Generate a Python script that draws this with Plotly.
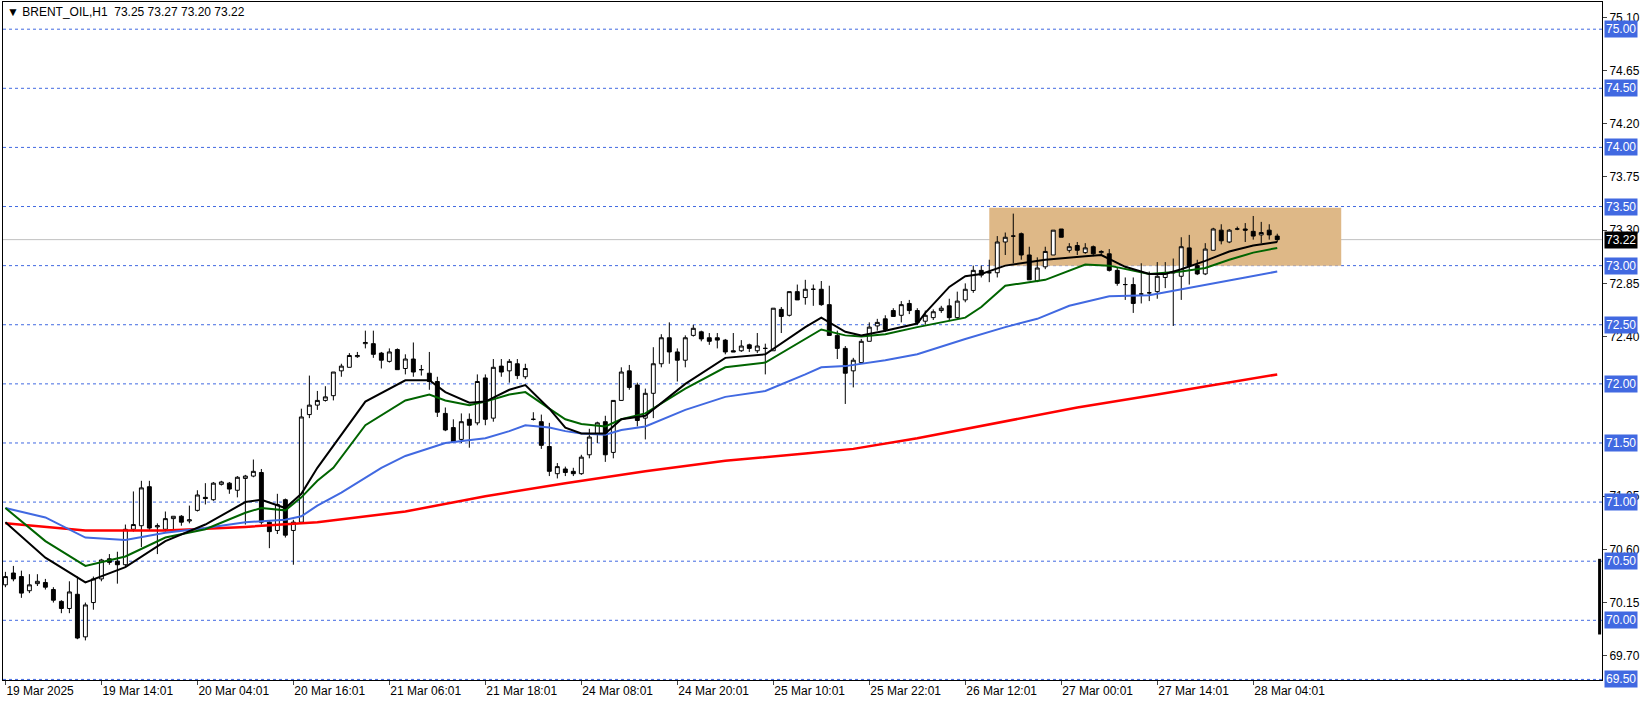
import plotly.graph_objects as go

# hourly candles, bar index 0..159
opens = [70.30,70.40,70.37,70.25,70.31,70.32,70.26,70.16,70.10,70.22,69.86,70.15,70.35,70.52,70.50,70.47,70.77,70.80,71.13,70.79,
         70.77,70.86,70.88,70.84,70.93,71.04,71.02,71.15,71.16,71.10,71.20,71.22,71.25,70.83,70.76,71.02,70.76,70.83,71.74,71.82,
         71.86,71.90,72.11,72.14,72.23,72.34,72.34,72.26,72.19,72.29,72.13,72.21,72.12,72.09,72.02,71.75,71.63,71.53,71.70,71.67,
         72.05,71.71,72.15,72.11,72.17,72.06,71.70,71.68,71.47,71.24,71.28,71.26,71.24,71.40,71.58,71.68,71.42,71.86,72.11,71.99,
         71.71,71.92,72.17,72.39,72.27,72.20,72.41,72.44,72.39,72.39,72.37,72.28,72.28,72.33,72.28,72.30,72.28,72.63,72.58,72.78,
         72.73,72.80,72.80,72.67,72.41,72.30,72.11,72.18,72.36,72.49,72.55,72.62,72.58,72.68,72.62,72.53,72.56,72.62,72.66,72.56,
         72.71,72.79,72.96,72.94,72.94,73.20,73.25,73.27,73.09,72.87,72.99,73.09,73.31,73.13,73.17,73.11,73.16,73.11,73.10,72.96,
         72.84,72.84,72.76,72.77,72.78,72.90,72.94,72.91,73.15,73.00,72.93,73.13,73.30,73.20,73.31,73.31,73.29,73.26,73.30,73.25]
highs = [70.41,70.46,70.42,70.39,70.39,70.35,70.28,70.17,70.33,70.37,70.15,70.37,70.52,70.56,70.58,70.81,71.09,71.18,71.18,70.82,
         70.92,70.88,70.89,70.97,71.10,71.16,71.17,71.18,71.17,71.22,71.23,71.36,71.28,70.84,71.07,71.03,70.85,71.79,72.07,71.94,
         71.98,72.10,72.17,72.26,72.27,72.45,72.45,72.27,72.30,72.30,72.25,72.35,72.16,72.27,72.06,71.80,71.70,71.75,71.75,72.08,
         72.08,72.21,72.21,72.21,72.21,72.17,71.76,71.74,71.67,71.33,71.30,71.29,71.40,71.62,71.68,71.73,71.86,72.14,72.16,72.01,
         71.96,72.31,72.42,72.52,72.30,72.41,72.50,72.45,72.43,72.43,72.38,72.43,72.37,72.34,72.43,72.34,72.64,72.65,72.78,72.84,
         72.88,72.84,72.87,72.83,72.45,72.32,72.22,72.38,72.52,72.55,72.58,72.64,72.70,72.71,72.64,72.62,72.63,72.66,72.72,72.78,
         72.85,73.00,73.00,73.05,73.25,73.28,73.44,73.28,73.16,73.07,73.16,73.30,73.31,73.19,73.20,73.19,73.17,73.13,73.14,72.98,
         72.90,72.90,73.02,72.95,73.03,73.03,73.06,73.24,73.26,73.05,73.19,73.32,73.35,73.31,73.33,73.36,73.42,73.37,73.35,73.27]
lows = [70.28,70.33,70.19,70.23,70.29,70.26,70.15,70.06,70.06,69.84,69.83,70.09,70.33,70.47,70.31,70.45,70.75,70.62,70.76,70.56,
        70.75,70.77,70.80,70.82,70.92,70.98,71.01,71.14,71.07,71.04,70.81,71.21,70.81,70.61,70.73,70.70,70.47,70.82,71.71,71.78,
        71.85,71.86,72.06,72.14,72.22,72.30,72.22,72.13,72.18,72.12,72.08,72.06,72.07,71.95,71.72,71.60,71.51,71.50,71.46,71.65,
        71.65,71.68,72.06,72.01,72.04,72.04,71.69,71.45,71.22,71.20,71.22,71.22,71.23,71.37,71.50,71.34,71.37,71.86,71.95,71.64,
        71.53,71.71,72.14,72.17,72.02,72.14,72.40,72.36,72.33,72.30,72.25,72.27,72.27,72.27,72.26,72.08,72.28,72.43,72.57,72.71,
        72.67,72.66,72.66,72.41,72.21,71.83,71.97,72.17,72.36,72.45,72.44,72.57,72.52,72.59,72.50,72.50,72.54,72.60,72.53,72.54,
        72.69,72.77,72.90,72.86,72.90,73.09,73.02,73.05,72.88,72.86,72.97,73.09,73.24,73.11,73.09,73.10,73.08,73.09,72.95,72.83,
        72.71,72.60,72.68,72.70,72.72,72.81,72.49,72.71,72.84,72.92,72.92,73.13,73.18,73.19,73.30,73.20,73.22,73.19,73.22,73.20]
closes = [70.37,70.35,70.23,70.30,70.33,70.28,70.17,70.10,70.24,69.85,70.13,70.35,70.51,70.49,70.47,70.77,70.81,71.12,70.78,70.80,
          70.86,70.88,70.83,70.85,71.06,71.03,71.16,71.17,71.11,71.21,71.22,71.26,70.83,70.75,70.98,70.72,70.83,71.72,71.82,71.86,
          71.89,72.10,72.15,72.24,72.24,72.35,72.25,72.20,72.27,72.12,72.21,72.10,72.12,72.02,71.76,71.61,71.51,71.68,71.65,72.02,
          71.70,72.14,72.10,72.19,72.07,72.13,71.70,71.48,71.26,71.30,71.25,71.24,71.38,71.55,71.67,71.40,71.86,72.10,71.97,71.69,
          71.92,72.17,72.39,72.27,72.20,72.39,72.47,72.38,72.36,72.37,72.27,72.27,72.32,72.30,72.32,72.30,72.64,72.57,72.78,72.71,
          72.80,72.80,72.67,72.41,72.30,72.09,72.20,72.36,72.48,72.52,72.46,72.57,72.67,72.62,72.52,72.58,72.61,72.64,72.56,72.70,
          72.80,72.96,72.92,72.94,73.20,73.24,73.25,73.09,72.88,72.98,73.12,73.30,73.24,73.16,73.13,73.15,73.10,73.12,72.96,72.85,
          72.84,72.68,72.76,72.77,72.91,72.94,72.94,73.16,73.00,72.93,73.14,73.31,73.21,73.30,73.31,73.30,73.25,73.28,73.26,73.22]

# moving average vertices (bar index, price)
ma_black_x = [0,5,10,15,20,25,30,32,35,37,39,42,45,50,53,55,58,60,63,65,68,70,72,75,77,80,85,90,95,100,102,105,107,110,114,115,118,120,122,125,130,135,137,140,143,145,147,150,153,156,159]
ma_black_y = [70.83,70.53,70.32,70.45,70.67,70.81,71.00,71.02,70.95,71.07,71.29,71.57,71.85,72.03,72.03,71.93,71.84,71.85,71.95,71.99,71.79,71.63,71.58,71.58,71.70,71.73,72.00,72.22,72.25,72.48,72.56,72.44,72.41,72.45,72.51,72.60,72.82,72.91,72.93,73.00,73.05,73.08,73.09,72.99,72.93,72.93,72.97,73.04,73.12,73.17,73.20]
ma_green_x = [0,5,10,15,20,25,30,32,35,37,39,41,45,50,53,55,58,60,63,65,68,70,72,75,77,80,85,90,95,100,102,105,107,110,114,120,122,125,130,135,138,143,147,150,153,156,159]
ma_green_y = [70.95,70.67,70.46,70.54,70.70,70.77,70.91,70.95,70.93,71.04,71.18,71.29,71.65,71.86,71.91,71.86,71.82,71.85,71.91,71.93,71.79,71.70,71.66,71.64,71.70,71.75,71.96,72.14,72.18,72.38,72.46,72.41,72.40,72.42,72.48,72.56,72.65,72.83,72.88,73.01,73.00,72.93,72.95,72.98,73.05,73.11,73.15]
ma_blue_x = [0,5,10,15,20,25,30,35,37,39,42,47,50,55,60,63,65,68,70,72,75,77,80,85,90,95,100,102,105,110,114,120,125,129,133,138,143,148,150,155,159]
ma_blue_y = [70.95,70.87,70.70,70.68,70.74,70.78,70.83,70.85,70.88,70.97,71.08,71.29,71.39,71.50,71.54,71.60,71.65,71.63,71.60,71.58,71.57,71.61,71.64,71.78,71.89,71.94,72.08,72.14,72.15,72.20,72.25,72.38,72.48,72.55,72.66,72.74,72.75,72.81,72.84,72.90,72.95]
ma_red_x = [0,10,20,30,39,50,60,70,80,90,100,106,114,124,134,144,154,159]
ma_red_y = [70.82,70.76,70.76,70.79,70.83,70.92,71.05,71.16,71.26,71.35,71.41,71.45,71.54,71.67,71.80,71.91,72.02,72.08]

# range box
box_x = [123, 167]
box_y = [73.0, 73.49]

# short vertical marker at the right edge
edge_bar_x = 199.3
edge_bar_y = [69.88, 70.52]

date_labels = ["19 Mar 2025","19 Mar 14:01","20 Mar 04:01","20 Mar 16:01","21 Mar 06:01","21 Mar 18:01","24 Mar 08:01",
               "24 Mar 20:01","25 Mar 10:01","25 Mar 22:01","26 Mar 12:01","27 Mar 00:01","27 Mar 14:01","28 Mar 04:01"]
date_idx = [0,12,24,36,48,60,72,84,96,108,120,132,144,156]

plain_ticks = [75.10,74.65,74.20,73.75,73.30,72.85,72.40,71.05,70.60,70.15,69.70]
level_lines = [75.0,74.5,74.0,73.5,73.0,72.5,72.0,71.5,71.0,70.5,70.0,69.5]
last_price = 73.22

x = list(range(len(closes)))
axis_font = dict(family="Liberation Sans", size=12, color="black")

fig = go.Figure()
fig.add_shape(type="rect", x0=box_x[0], x1=box_x[1], y0=box_y[0], y1=box_y[1],
              fillcolor="#DEB887", line_width=0, layer="below")
for lv in level_lines:
    fig.add_hline(y=lv, line=dict(color="#4169E1", width=1, dash="3px,3px"), layer="below")
fig.add_hline(y=last_price, line=dict(color="#C0C0C0", width=1), layer="below")
fig.add_shape(type="line", x0=edge_bar_x, x1=edge_bar_x, y0=edge_bar_y[0], y1=edge_bar_y[1],
              line=dict(color="black", width=3))

fig.add_trace(go.Candlestick(x=x, open=opens, high=highs, low=lows, close=closes,
                             increasing=dict(fillcolor="white", line=dict(color="black", width=1)),
                             decreasing=dict(fillcolor="black", line=dict(color="black", width=1)),
                             whiskerwidth=0, showlegend=False, hoverinfo="skip"))
fig.add_trace(go.Scatter(x=ma_red_x, y=ma_red_y, mode="lines", line=dict(color="red", width=2.5)))
fig.add_trace(go.Scatter(x=ma_blue_x, y=ma_blue_y, mode="lines", line=dict(color="#4169E1", width=2)))
fig.add_trace(go.Scatter(x=ma_green_x, y=ma_green_y, mode="lines", line=dict(color="#006400", width=2)))
fig.add_trace(go.Scatter(x=ma_black_x, y=ma_black_y, mode="lines", line=dict(color="black", width=2)))

# price labels on the right axis
for lv in level_lines:
    fig.add_annotation(x=1, xref="paper", y=lv, yref="y", text=f"{lv:.2f}", showarrow=False,
                       xanchor="left", xshift=2, bgcolor="#4169E1", borderpad=1,
                       font=dict(family="Liberation Sans", size=12, color="white"))
fig.add_annotation(x=1, xref="paper", y=last_price, yref="y", text=f"{last_price:.2f}", showarrow=False,
                   xanchor="left", xshift=2, bgcolor="black", borderpad=1,
                   font=dict(family="Liberation Sans", size=12, color="white"))

fig.add_annotation(x=0, xref="paper", y=1, yref="paper", xanchor="left", yanchor="top", showarrow=False,
                   text="▼ BRENT_OIL,H1  73.25 73.27 73.20 73.22", xshift=2, yshift=-1,
                   font=dict(family="Liberation Sans", size=12, color="black"))

fig.update_layout(
    width=1651, height=708, margin=dict(l=3, r=49, t=2, b=28),
    plot_bgcolor="white", paper_bgcolor="white", showlegend=False,
    font=axis_font,
    xaxis=dict(range=[-0.3, 199.6], rangeslider=dict(visible=False), showgrid=False, zeroline=False,
               tickvals=date_idx, ticktext=date_labels, ticks="outside", ticklen=4, automargin=False,
               ticklabelposition="outside right", showline=True, linecolor="black", mirror=True,
               tickfont=axis_font),
    yaxis=dict(range=[69.495, 75.23], side="right", showgrid=False, zeroline=False, automargin=False,
               tickvals=plain_ticks, tickformat=".2f", ticks="outside", ticklen=4,
               showline=True, linecolor="black", mirror=True, tickfont=axis_font),
)

# page has no body margin so the figure sits at the window edge
fig.write_html("out.html", config={"displayModeBar": False},
               post_script="document.body.style.margin='0';")
